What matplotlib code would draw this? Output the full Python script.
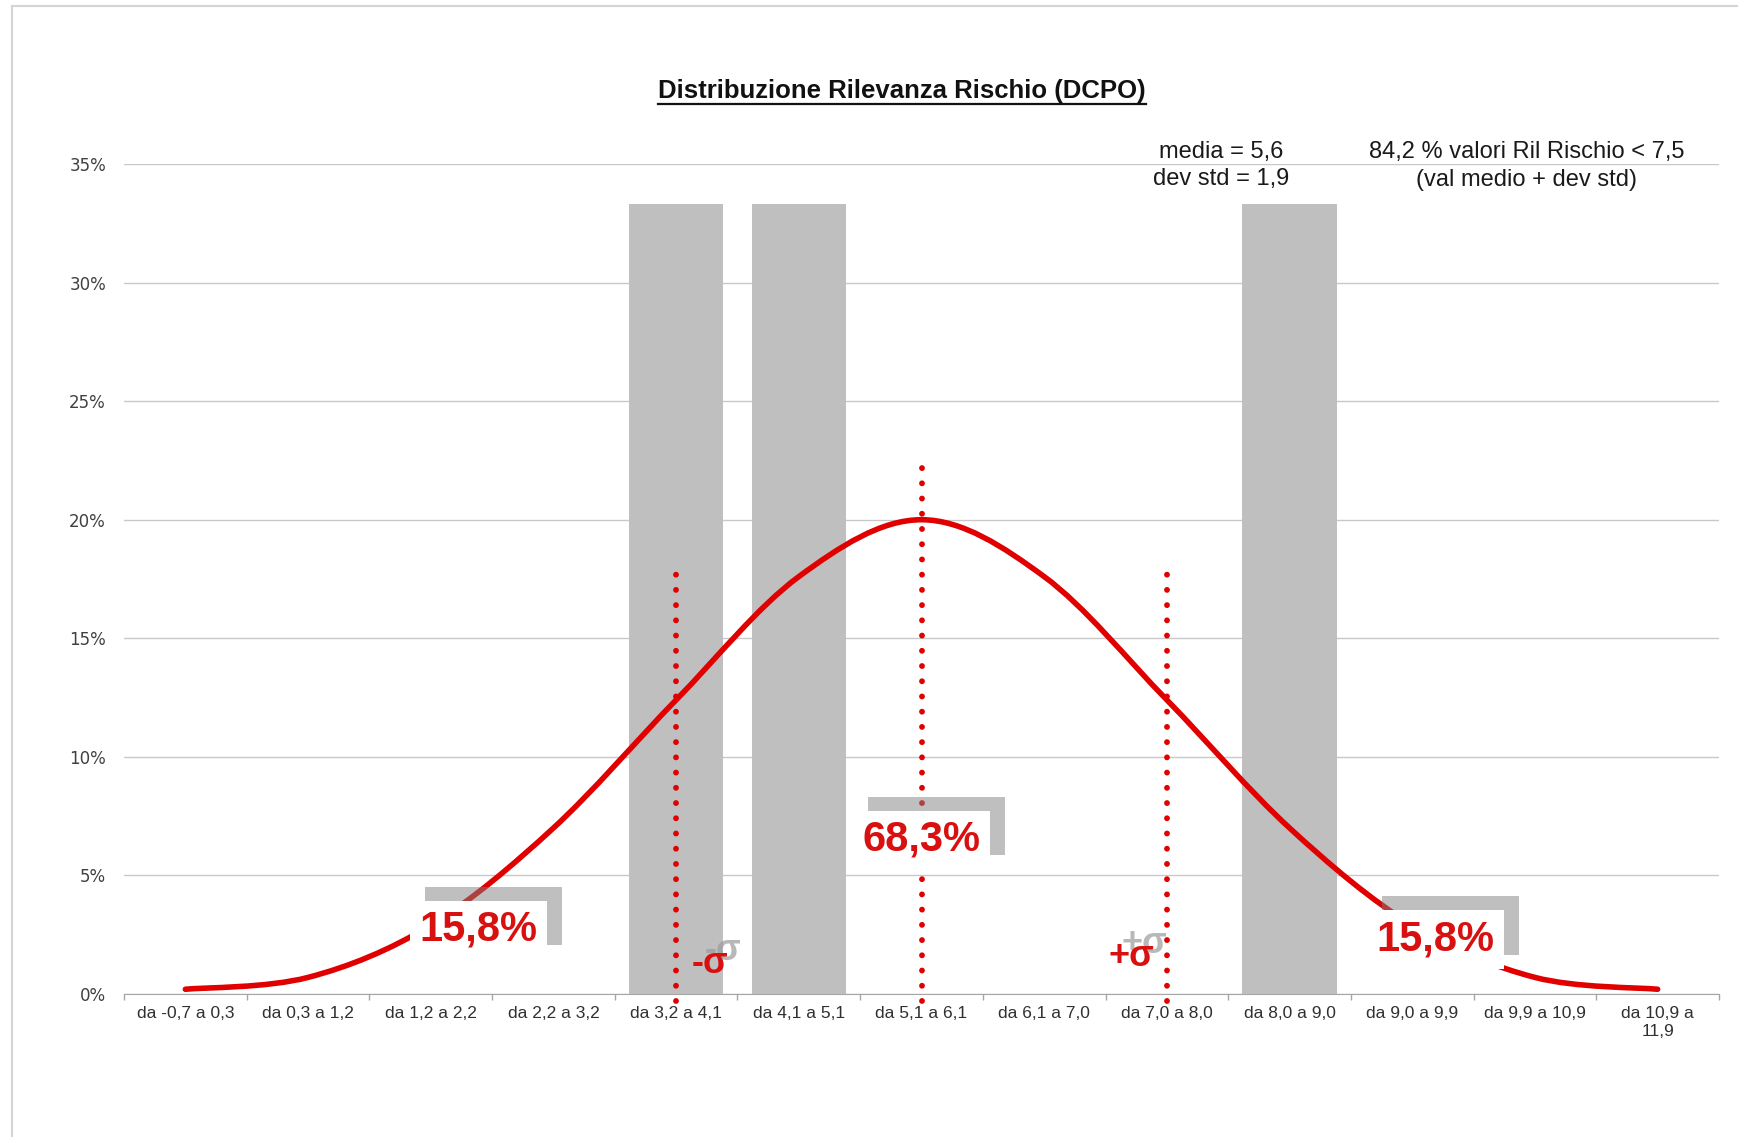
import matplotlib
matplotlib.use('Agg')
import matplotlib.pyplot as plt
from matplotlib.path import Path
from matplotlib.patches import PathPatch
from matplotlib.lines import Line2D
import numpy as np

# --- data ---
categories = ['da -0,7 a 0,3', 'da 0,3 a 1,2', 'da 1,2 a 2,2', 'da 2,2 a 3,2',
              'da 3,2 a 4,1', 'da 4,1 a 5,1', 'da 5,1 a 6,1', 'da 6,1 a 7,0',
              'da 7,0 a 8,0', 'da 8,0 a 9,0', 'da 9,0 a 9,9', 'da 9,9 a 10,9',
              'da 10,9 a\n11,9']
freq = [0, 0, 0, 0, 33.3, 33.3, 0, 0, 0, 33.3, 0, 0, 0]          # % bars
gauss = [0.2, 0.7, 2.9, 7.0, 12.4, 17.6, 20.0, 17.6, 12.4, 7.0, 2.9, 0.7, 0.2]  # % curve
sigma_idx = [4, 6, 8]            # categories of -sigma, mean, +sigma
sigma_top = [18.0, 22.2, 18.0]   # % height of the dotted markers
area_text = ['15,8%', '68,3%', '15,8%']
sigma_text = ['-σ', '+σ']
title = 'Distribuzione Rilevanza Rischio (DCPO)'
stats_text = ['media = 5,6', 'dev std = 1,9']
note_text = ['84,2 % valori Ril Rischio < 7,5', '(val medio + dev std)']

RED = '#E00000'
TXT_RED = '#D81010'
W, H = 1738, 1137

plt.rcParams['font.family'] = ['Liberation Sans', 'DejaVu Sans']
fig = plt.figure(figsize=(W / 100, H / 100), dpi=100)
ax = fig.add_axes([124 / W, 1 - 994 / H, (1719 - 124) / W, (994 - 164) / H])

x = np.arange(len(categories))
ax.bar(x, freq, width=0.77, color='#BFBFBF', zorder=2)

# smooth line through the points (bezier, like excel "smoothed line")
pts = np.column_stack([x, gauss]).astype(float)
verts = [tuple(pts[0])]
codes = [Path.MOVETO]
n = len(pts)
for i in range(n - 1):
    p0 = pts[max(i - 1, 0)]
    p1 = pts[i]
    p2 = pts[i + 1]
    p3 = pts[min(i + 2, n - 1)]
    c1 = p1 + (p2 - p0) / 6
    c2 = p2 - (p3 - p1) / 6
    verts += [tuple(c1), tuple(c2), tuple(p2)]
    codes += [Path.CURVE4] * 3
ax.add_patch(PathPatch(Path(verts, codes), fill=False, ec=RED, lw=4.0,
                       capstyle='round', zorder=3))

# dotted sigma markers
for i, top in zip(sigma_idx, sigma_top):
    ax.plot([x[i], x[i]], [-0.3, top], color=RED, lw=4.2, ls=(0, (0.01, 2.6)),
            dash_capstyle='round', clip_on=False, zorder=4)

# boxed percentages with a shadow
def boxed(xc, yc, s):
    kw = dict(ha='center', va='center', fontsize=30, fontweight='bold')
    ax.annotate(s, (xc, yc), xytext=(15, 14), textcoords='offset pixels', color='none',
                bbox=dict(boxstyle='square,pad=0.22', fc='#808080', ec='none', alpha=0.5),
                zorder=6, **kw)
    ax.annotate(s, (xc, yc), xytext=(0, 0), textcoords='offset pixels', color=TXT_RED,
                bbox=dict(boxstyle='square,pad=0.22', fc='white', ec='none'),
                zorder=7, **kw)

boxed(2.39, 2.7, area_text[0])
boxed(6.0, 6.5, area_text[1])
boxed(10.19, 2.3, area_text[2])

def sigma(xc, yc, s):
    kw = dict(ha='center', va='center', fontsize=26, fontweight='bold')
    ax.annotate(s, (xc, yc), xytext=(13, 13), textcoords='offset pixels',
                color='#9A9A9A', alpha=0.7, zorder=6, **kw)
    ax.annotate(s, (xc, yc), xytext=(0, 0), textcoords='offset pixels',
                color=TXT_RED, zorder=7, **kw)

sigma(4.28, 1.3, sigma_text[0])
sigma(7.71, 1.6, sigma_text[1])

# axes styling
ax.set_xlim(-0.5, len(categories) - 0.5)
ax.set_ylim(0, 35)
ax.set_yticks(range(0, 36, 5))
ax.set_yticklabels([f'{v}%' for v in range(0, 36, 5)], fontfamily='DejaVu Sans',
                   fontsize=12, color='#404040')
ax.tick_params(axis='y', length=0, pad=13)
ax.set_xticks(x)
ax.set_xticklabels(categories, fontsize=12.5, color='#303030', linespacing=1.25)
ax.tick_params(axis='x', which='major', length=0, pad=9)
ax.set_xticks(np.arange(-0.5, len(categories), 1), minor=True)
ax.tick_params(axis='x', which='minor', length=4.5, color='#A6A6A6', width=1)
ax.yaxis.grid(True, color='#C8C8C8', lw=1)
ax.set_axisbelow(True)
for s in ['left', 'right', 'top']:
    ax.spines[s].set_visible(False)
ax.spines['bottom'].set_color('#A6A6A6')
ax.spines['bottom'].set_zorder(1)

# title, underlined
t = fig.text(902 / W, 1 - 91 / H, title, ha='center', va='center',
             fontsize=18.5, fontweight='bold', color='#111111')
fig.canvas.draw()
bb = t.get_window_extent(renderer=fig.canvas.get_renderer())
uy = (H - 104) / H
fig.add_artist(Line2D([bb.x0 / W, bb.x1 / W], [uy, uy], color='#111111', lw=1.6,
                      transform=fig.transFigure))

fig.text(1221 / W, 1 - 152 / H, stats_text[0], ha='center', va='center', fontsize=17, color='#1A1A1A')
fig.text(1221 / W, 1 - 179 / H, stats_text[1], ha='center', va='center', fontsize=17, color='#1A1A1A')
fig.text(1527 / W, 1 - 152 / H, note_text[0], ha='center', va='center', fontsize=17, color='#1A1A1A')
fig.text(1527 / W, 1 - 180 / H, note_text[1], ha='center', va='center', fontsize=17, color='#1A1A1A')

# outer chart border (only left and top visible)
fig.add_artist(Line2D([12 / W, 12 / W], [0, 1 - 6 / H], color='#D4D4D4', lw=1.5,
                      transform=fig.transFigure))
fig.add_artist(Line2D([12 / W, 1], [1 - 6 / H, 1 - 6 / H], color='#D4D4D4', lw=1.5,
                      transform=fig.transFigure))

fig.savefig('out.png', dpi=100)
